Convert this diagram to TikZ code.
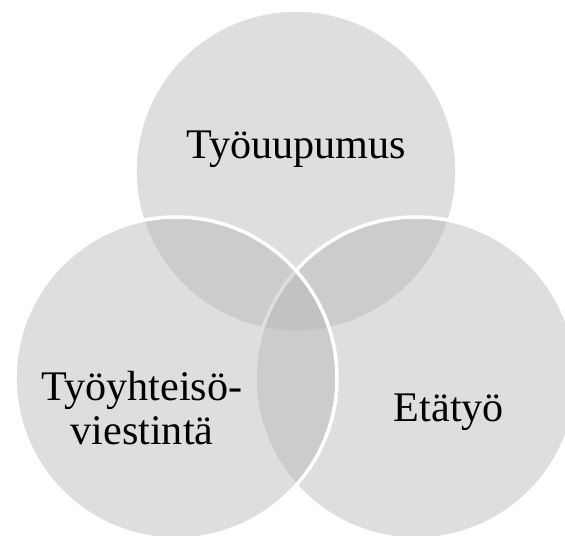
\documentclass[tikz,border=0pt]{standalone}
\usepackage{fontspec}
\setmainfont{Liberation Serif}
\usepackage{tikz}
\usetikzlibrary{positioning}
\definecolor{vennfill}{gray}{0.713}
\tikzset{venncircle/.style={fill=vennfill,fill opacity=0.45,draw=white,line width=3pt}}
\tikzset{vennlabel/.style={font=\fontsize{36}{38}\selectfont,align=center,inner sep=0pt}}
\begin{document}
\begin{tikzpicture}
				\useasboundingbox (0,0) rectangle (16.95,16.05);
				\draw [venncircle] (8.88,10.92) circle (4.83);
				\draw [venncircle] (12.48,4.71) circle (4.83);
				\draw [venncircle] (5.28,4.71) circle (4.83);

				\draw (8.88,11.29) node (uupumus) [vennlabel,anchor=base] {Työuupumus};
				\draw (4.26,3.81) node (viestinta) [vennlabel] {Työyhteisö-\\viestintä};
				\draw (13.47,3.42) node (etatyo) [vennlabel,anchor=base] {Etätyö};
			\end{tikzpicture}
\end{document}
